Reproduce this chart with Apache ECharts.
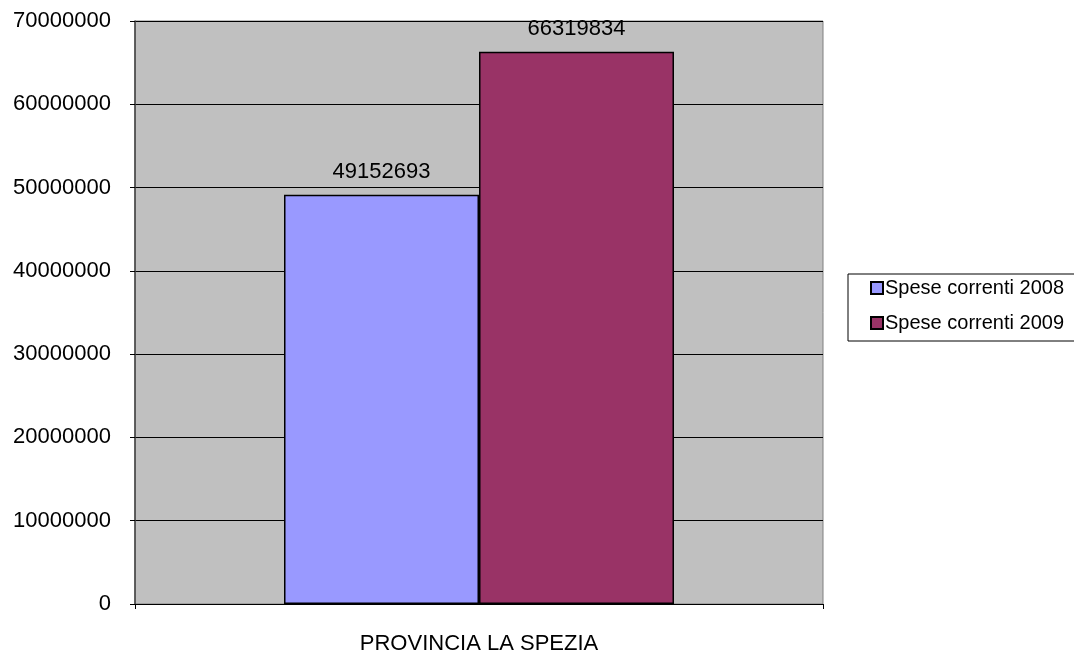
<!DOCTYPE html>
<html>
<head>
<meta charset="utf-8">
<script src="https://cdn.jsdelivr.net/npm/echarts@6/dist/echarts.min.js"></script>
<style>
  html, body { margin: 0; padding: 0; background: #fff; }
  #chart { width: 1074px; height: 655px; }
</style>
</head>
<body>
<div id="chart"></div>
<script>
// dati
var categories = ["PROVINCIA LA SPEZIA"];
var seriesNames = ["Spese correnti 2008", "Spese correnti 2009"];
var spese2008 = [49152693];
var spese2009 = [66319834];

var myChart = echarts.init(document.getElementById("chart"));
var font = "'Liberation Sans', Arial, sans-serif";

myChart.setOption({
  animation: false,
  textStyle: { fontFamily: font },
  grid: {
    left: 135,
    right: 251,
    top: 21,
    bottom: 51,
    show: true,
    backgroundColor: "#C0C0C0",
    borderColor: "#808080",
    borderWidth: 1
  },
  legend: {
    data: seriesNames,
    orient: "vertical",
    left: 848,
    top: 274,
    icon: "rect",
    itemWidth: 12,
    itemHeight: 12,
    itemGap: 15,
    padding: [4, 30, 8, 22],
    borderColor: "#000",
    borderWidth: 1,
    textStyle: { color: "#000", fontSize: 20, fontFamily: font, padding: [0, 0, 0, -3] }
  },
  xAxis: {
    type: "category",
    data: categories,
    axisLine: { lineStyle: { color: "#000", width: 1 } },
    axisTick: { show: true, length: 5, lineStyle: { color: "#000" } },
    axisLabel: { color: "#000", fontSize: 22, margin: 29, fontFamily: font }
  },
  yAxis: {
    type: "value",
    min: 0,
    max: 70000000,
    interval: 10000000,
    axisLine: { show: true, lineStyle: { color: "#404040", width: 1.5 } },
    axisTick: { show: true, length: 5, lineStyle: { color: "#000" } },
    axisLabel: {
      color: "#000", fontSize: 22, margin: 24, fontFamily: font,
      formatter: function (v) { return String(v); }
    },
    splitLine: { show: true, lineStyle: { color: "#000", width: 1 } }
  },
  series: [
    {
      name: seriesNames[0],
      type: "bar",
      data: spese2008,
      barWidth: 195,
      barGap: "0%",
      itemStyle: { color: "#9999FF", borderColor: "#000", borderWidth: 1.5 },
      label: { show: true, position: "top", distance: 12, color: "#000", fontSize: 22, fontFamily: font }
    },
    {
      name: seriesNames[1],
      type: "bar",
      data: spese2009,
      barWidth: 195,
      barGap: "0%",
      itemStyle: { color: "#993366", borderColor: "#000", borderWidth: 1.5 },
      label: { show: true, position: "top", distance: 12, color: "#000", fontSize: 22, fontFamily: font }
    }
  ]
});
</script>
</body>
</html>
